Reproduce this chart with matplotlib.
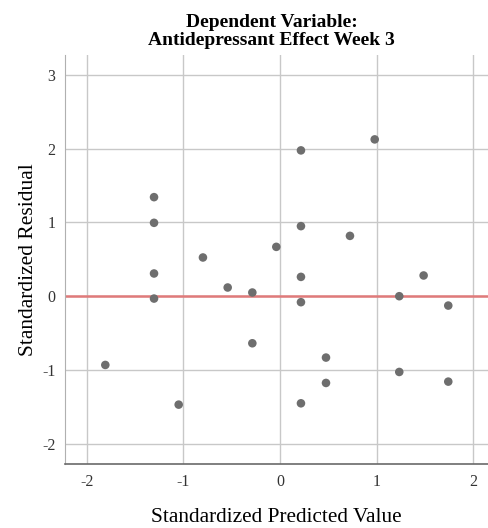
import matplotlib.pyplot as plt

# Standardized predicted values vs standardized residuals
pred = [0.217, 0.98, -1.303, -1.303, -1.303, -1.303, -0.797, -0.541, -0.286, -0.286,
        -0.038, 0.217, 0.217, 0.217, 0.724, 1.234, 1.486, 1.741,
        -1.807, -1.048, 0.476, 0.476, 0.217, 1.234, 1.741]
resid = [1.977, 2.126, 1.343, 0.995, 0.308, -0.032, 0.525, 0.118, 0.05, -0.638,
         0.669, 0.95, 0.262, -0.081, 0.818, 0.0, 0.281, -0.127,
         -0.932, -1.47, -0.832, -1.176, -1.452, -1.027, -1.158]
ticks = [-2, -1, 0, 1, 2, 3]

plt.rcParams['font.family'] = ['Liberation Serif', 'DejaVu Serif']
plt.rcParams['axes.unicode_minus'] = False

fig = plt.figure(figsize=(4.88, 5.28), dpi=100)
ax = fig.add_axes([0.1332, 0.1212, 0.8668, 0.7746])

ax.grid(True, color='#c8c8c8', linewidth=1.0)
ax.set_axisbelow(True)
ax.axhline(0, color='#e07a7a', linewidth=1.8, zorder=2)
ax.scatter(pred, resid, s=38, color='#6e6e6e', edgecolors='none', zorder=3)

ax.set_xlim(-2.224, 2.152)
ax.set_ylim(-2.275, 3.27)
ax.set_xticks(ticks[:5])
ax.set_yticks(ticks)
ax.tick_params(length=0, labelsize=11.5, labelcolor='#333333', pad=7)

for side in ['top', 'right']:
    ax.spines[side].set_visible(False)
ax.spines['left'].set_color('#b0b0b0')
ax.spines['bottom'].set_color('#6a6a6a')
ax.spines['bottom'].set_linewidth(1.2)

ax.set_xlabel('Standardized Predicted Value', fontsize=15.3, labelpad=13)
ax.set_ylabel('Standardized Residual', fontsize=15.5, labelpad=3)
ax.set_title('Dependent Variable:\nAntidepressant Effect Week 3',
             fontsize=14, fontweight='bold', pad=7, linespacing=1.12, x=0.488)

fig.savefig('out.png', dpi=100)
